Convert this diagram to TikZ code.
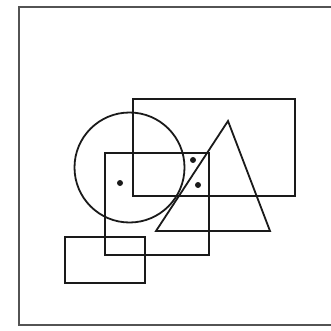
\documentclass[tikz,border=0pt]{standalone}
\usepackage{tikz}
\usetikzlibrary{shapes.geometric, positioning}
\definecolor{blk}{HTML}{1A1A1A}
\tikzset{
  frm/.style  = {draw=blk!75, line width=2.2pt},
  shp/.style  = {draw=blk, line width=1.8pt},
  dot/.style  = {circle, fill=blk, inner sep=0pt, minimum size=6pt},
}

\begin{document}
\begin{tikzpicture}[x=1pt, y=-1pt]
  \useasboundingbox (0,0) rectangle (330,331);

  % outer frame (right side runs past the page)
  \draw[frm] (340,325) -- (19,325) -- (19,7) -- (340,7);

  % shapes
  \draw[shp] (133,99)  rectangle (295,196);
  \draw[shp] (105,153) rectangle (209,255);
  \draw[shp] (65,237)  rectangle (145,283);
  \draw[shp] (129.5,167.5) circle (55);
  \draw[shp] (228,121) -- (270,231) -- (156,231) -- cycle;

  % marked points
  \node[dot] (p1) at (120,183) {};
  \node[dot] (p2) at (193,160) {};
  \node[dot] (p3) at (198,185) {};
\end{tikzpicture}
\end{document}
